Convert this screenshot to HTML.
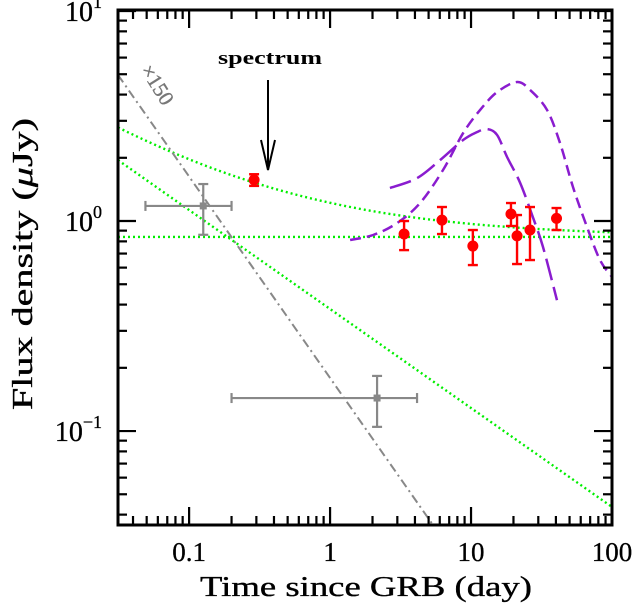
<!DOCTYPE html>
<html><head><meta charset="utf-8"><style>
html,body{margin:0;padding:0;background:#fff;}
svg{display:block;font-family:"Liberation Serif",serif;}
</style></head><body>
<svg id="chart" width="638" height="605" viewBox="0 0 638 605"></svg>
<script>
// ---- data ----
const redT = [0.289, 3.35, 6.22, 10.3, 19.2, 21.2, 26.2, 40.4];
const redF = [1.57, 0.867, 1.01, 0.76, 1.08, 0.85, 0.906, 1.03];
const redHi = [1.67, 1.0, 1.166, 0.906, 1.218, 1.068, 1.166, 1.153];
const redLo = [1.47, 0.727, 0.867, 0.617, 0.947, 0.624, 0.652, 0.906];
const greyT = [0.126, 2.155];
const greyF = [1.18, 0.1436];
const greyTlo = [0.049, 0.2];
const greyThi = [0.2, 4.14];
const greyFlo = [0.86, 0.1047];
const greyFhi = [1.5, 0.183];
const plT = [0.0313, 100];          // power-law component endpoints
const plF = [1.95, 0.0435];
const constF = 0.84;                // constant component
const xrayT = [0.0313, 5.37];       // x150 dash-dot line
const xrayF = [4.96, 0.0357];
const snAT = [2.66, 4.14, 6.03, 8.78, 11.0, 13.0, 15.3, 18.0, 22.3, 27.5, 32.4, 40.7];
const snAF = [1.436, 1.6, 1.95, 2.43, 2.65, 2.74, 2.57, 2.02, 1.52, 1.04, 0.752, 0.42];
const snBT = [1.387, 2.02, 2.99, 4.35, 6.33, 8.78, 11.6, 15.3, 21.2, 26.2, 34.6, 42.8, 52.9, 66.5, 82.2, 100];
const snBF = [0.812, 0.858, 0.978, 1.218, 1.75, 2.62, 3.38, 4.11, 4.59, 4.21, 3.38, 2.35, 1.45, 0.936, 0.652, 0.541];
const xTickLabels = ["0.1", "1", "10", "100"];
const xTickVals = [0.1, 1, 10, 100];
const yTickVals = [0.1, 1, 10];
const yTickExp = ["−1", "0", "1"];

// ---- axes ----
const L=118,R=612,T=10,B=525;
const tMin=Math.log10(0.0313), tMax=2, fMin=Math.log10(0.0357), fMax=1+1/210;
const X=t=>L+(Math.log10(t)-tMin)/(tMax-tMin)*(R-L);
const Y=f=>B-(Math.log10(f)-fMin)/(fMax-fMin)*(B-T);
const svg=document.getElementById('chart');
const NS='http://www.w3.org/2000/svg';
function mk(tag,attrs,parent){const e=document.createElementNS(NS,tag);for(const k in attrs)e.setAttribute(k,attrs[k]);(parent||svg).appendChild(e);return e;}

const defs=mk('defs',{});
const cp=mk('clipPath',{id:'clip'},defs);
mk('rect',{x:L,y:T,width:R-L,height:B-T},cp);
const plot=mk('g',{'clip-path':'url(#clip)'});



function poly(ts,fs,style,name){
  const p=mk('polyline',Object.assign({points:ts.map((t,i)=>X(t)+','+Y(fs[i])).join(' '),fill:'none'},style),plot);
  
  
  return p;
}
function smooth(ts,fs,style,name){
  const P=ts.map((t,i)=>[X(t),Y(fs[i])]);
  let d='M'+P[0][0]+','+P[0][1];
  for(let i=0;i<P.length-1;i++){
    const p0=P[Math.max(0,i-1)],p1=P[i],p2=P[i+1],p3=P[Math.min(P.length-1,i+2)];
    const c1=[p1[0]+(p2[0]-p0[0])/6,p1[1]+(p2[1]-p0[1])/6];
    const c2=[p2[0]-(p3[0]-p1[0])/6,p2[1]-(p3[1]-p1[1])/6];
    d+=' C'+c1[0]+','+c1[1]+' '+c2[0]+','+c2[1]+' '+p2[0]+','+p2[1];
  }
  const p=mk('path',Object.assign({d:d,fill:'none'},style),plot);
  
  
  return p;
}
// green model lines
const gs={stroke:'#00ee00','stroke-width':2.4,'stroke-dasharray':'2 3'};
poly([plT[0],plT[1]],[constF,constF],gs,'constant-component-line');
poly(plT,plF,gs,'power-law-component-line');
const sumT=[],sumF=[];
const slope=Math.log(plF[1]/plF[0])/Math.log(plT[1]/plT[0]);
for(let i=0;i<=60;i++){const t=plT[0]*Math.pow(plT[1]/plT[0],i/60);sumT.push(t);sumF.push(constF+plF[0]*Math.pow(t/plT[0],slope));}
poly(sumT,sumF,gs,'total-model-line');
// grey dash-dot
poly(xrayT,xrayF,{stroke:'#888','stroke-width':2,'stroke-dasharray':'9 4 2 4'},'xray-scaled-line');
// purple SN curves
smooth(snAT,snAF,{stroke:'#8a1ccf','stroke-width':2.5,'stroke-dasharray':'22 7','stroke-linejoin':'round'},'sn-model-long-dash');
smooth(snBT,snBF,{stroke:'#8a1ccf','stroke-width':2.5,'stroke-dasharray':'11 6','stroke-linejoin':'round'},'sn-model-dash');

// grey points
greyT.forEach((t,i)=>{
  const g=mk('g',{stroke:'#888','stroke-width':2.2},plot);
  
  
  const x=X(t),y=Y(greyF[i]),x1=X(greyTlo[i]),x2=X(greyThi[i]),y1=Y(greyFhi[i]),y2=Y(greyFlo[i]);
  mk('line',{x1:x1,y1:y,x2:x2,y2:y},g);
  mk('line',{x1:x,y1:y1,x2:x,y2:y2},g);
  mk('line',{x1:x1,y1:y-5,x2:x1,y2:y+5},g);
  mk('line',{x1:x2,y1:y-5,x2:x2,y2:y+5},g);
  mk('line',{x1:x-5,y1:y1,x2:x+5,y2:y1},g);
  mk('line',{x1:x-5,y1:y2,x2:x+5,y2:y2},g);
  mk('rect',{x:x-3.5,y:y-3.5,width:7,height:7,fill:'#888',stroke:'none'},g);
});
// red points
redT.forEach((t,i)=>{
  const g=mk('g',{stroke:'#f00','stroke-width':2.4},plot);
  
  
  const x=X(t),y=Y(redF[i]),y1=Y(redHi[i]),y2=Y(redLo[i]);
  mk('line',{x1:x,y1:y1,x2:x,y2:y2},g);
  mk('line',{x1:x-5,y1:y1,x2:x+5,y2:y1},g);
  mk('line',{x1:x-5,y1:y2,x2:x+5,y2:y2},g);
  mk('circle',{cx:x,cy:y,r:5.5,fill:'#f00',stroke:'none'},g);
});

// frame & ticks
const ax=mk('g',{stroke:'#000','stroke-width':2.2,fill:'none'});


mk('rect',{x:L,y:T,width:R-L,height:B-T,'stroke-width':3},ax);
for(let d=-2;d<=2;d++)for(let m=1;m<=9;m++){
  const t=m*Math.pow(10,d);if(t<0.0313||t>100.01)continue;
  const len=m===1?18:9,x=X(t);
  mk('line',{x1:x,y1:B,x2:x,y2:B-len},ax);
  mk('line',{x1:x,y1:T,x2:x,y2:T+len},ax);
}
for(let d=-2;d<=1;d++)for(let m=1;m<=9;m++){
  const f=m*Math.pow(10,d);if(f<0.0357||f>10.01)continue;
  const len=m===1?18:9,y=Y(f);
  mk('line',{x1:L,y1:y,x2:L+len,y2:y},ax);
  mk('line',{x1:R,y1:y,x2:R-len,y2:y},ax);
}
xTickVals.forEach((v,i)=>{
  const tx=mk('text',{x:X(v),y:561,'font-size':27,'text-anchor':'middle',fill:'#000',stroke:'#000','stroke-width':0.3});
  tx.textContent=xTickLabels[i];
  
  
});
yTickVals.forEach((v,i)=>{
  const tx=mk('text',{x:102,y:Y(v)+10,'font-size':28,'text-anchor':'end',fill:'#000',stroke:'#000','stroke-width':0.3});
  tx.innerHTML='10<tspan dy="-13" font-size="18">'+yTickExp[i]+'</tspan>';
  
  
});
</script>
<svg style="position:absolute;left:0;top:0" width="638" height="605">
  <text x="200" y="596" textLength="332" lengthAdjust="spacingAndGlyphs" font-family="Liberation Serif,serif" font-size="28" stroke="#000" stroke-width="0.35">Time since GRB (day)</text>
  <text transform="translate(32,410) rotate(-90)" textLength="292" lengthAdjust="spacingAndGlyphs" font-family="Liberation Serif,serif" font-size="28" stroke="#000" stroke-width="0.35">Flux density (<tspan font-style="italic">μ</tspan>Jy)</text>
  <text x="218" y="64" textLength="104" lengthAdjust="spacingAndGlyphs" font-family="Liberation Serif,serif" font-size="19" font-weight="bold">spectrum</text>
  <g stroke="#000" stroke-width="2" fill="none">
    <line x1="268" y1="80" x2="268" y2="170"/>
    <polyline points="261,140 268,170 275,140"/>
  </g>
  <text transform="translate(140,70) rotate(58)" font-family="Liberation Serif,serif" font-size="21" fill="#777" stroke="#777" stroke-width="0.4">×150</text>
</svg>
</body></html>
